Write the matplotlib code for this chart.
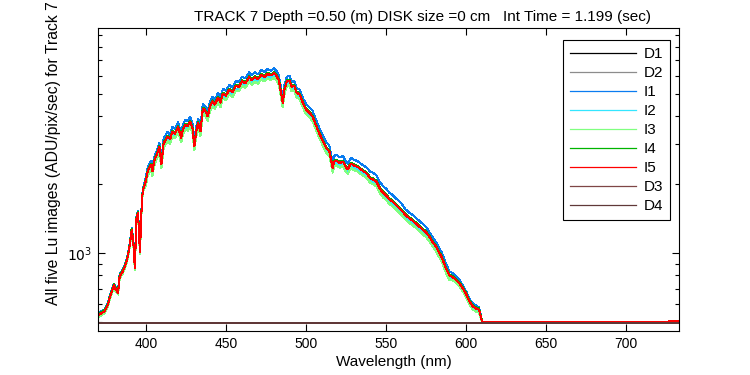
import matplotlib
matplotlib.use("Agg")
import matplotlib.pyplot as plt
from matplotlib.ticker import LogLocator, NullFormatter, FixedLocator, FixedFormatter

plt.rcParams['font.family'] = ['Liberation Sans', 'DejaVu Sans']

# wavelength grid (nm) shared by the five Lu images
wl = [370, 372, 374, 376, 378, 380, 381, 382.5, 383.5, 385.5,
      387.5, 389, 390, 391, 392, 393, 394, 395, 396.2, 397,
      397.6, 398.5, 400, 401, 403, 404, 405, 407, 408.3, 409.6,
      411, 413.5, 415, 416.5, 418, 420, 422, 423, 424.5, 426,
      427.5, 429, 430.2, 431.2, 432.5, 434, 435.5, 437, 438.5, 440,
      441.6, 443, 445, 446.5, 448, 450, 452, 454, 456, 458,
      460, 462, 464.5, 466, 468, 470, 472, 474, 476, 478,
      480, 481.5, 483, 484.5, 485.4, 486.5, 488, 489.6, 491, 492.5,
      494, 496, 498, 500, 502, 504, 506, 508, 510, 512.5,
      514.5, 516.6, 517.6, 519, 521, 523, 524.5, 526, 528, 530,
      532, 534, 536, 538, 540, 542, 544, 546, 548, 550,
      552, 554, 556, 558, 560, 562, 564.5, 567, 569, 571,
      573, 575, 577, 579, 581, 583, 585, 587, 589.5, 591,
      593, 595.5, 598, 600, 602, 604, 606, 608, 610, 612,
      630, 650, 665, 680, 700, 712, 726, 727, 733]

i1 = [546, 556, 567, 602, 675, 736, 709, 685, 806, 849,
      920, 1020, 1130, 1287, 1165, 875, 1448, 1525, 1032, 1479,
      1805, 1969, 2174, 2371, 2532, 2371, 2621, 2850, 3047, 2558,
      3182, 3402, 3308, 3570, 3507, 3738, 3360, 3644, 3833, 3780,
      3959, 3696, 3098, 3528, 3885, 3591, 4515, 4410, 4169, 4620,
      4851, 4704, 5040, 4788, 5250, 5145, 5460, 5313, 5670, 5618,
      5933, 5828, 6195, 6006, 6195, 6069, 6353, 6216, 6405, 6300,
      6458, 6279, 5985, 5198, 4778, 5460, 5933, 5985, 5618, 5691,
      5303, 5198, 4778, 4505, 4367, 4208, 3869, 3572, 3339, 3063,
      2968, 2502, 2671, 2692, 2629, 2671, 2544, 2470, 2618, 2565,
      2533, 2470, 2417, 2364, 2279, 2247, 2194, 2054, 1969, 1915,
      1840, 1798, 1744, 1691, 1637, 1558, 1505, 1463, 1420, 1378,
      1341, 1304, 1239, 1176, 1124, 1061, 998, 914, 832, 822,
      801, 770, 721, 680, 633, 603, 590, 580, 502, 497,
      498, 498, 499, 497, 498, 499, 499, 503, 503]

i2 = [530, 540, 550, 584, 655, 715, 688, 665, 782, 824,
      893, 990, 1097, 1249, 1131, 849, 1406, 1480, 1002, 1436,
      1752, 1911, 2038, 2223, 2374, 2223, 2457, 2672, 2857, 2399,
      2954, 3159, 3071, 3315, 3257, 3471, 3120, 3383, 3559, 3510,
      3676, 3432, 2876, 3276, 3608, 3335, 4193, 4095, 3871, 4290,
      4505, 4368, 4680, 4446, 4875, 4778, 5070, 4934, 5265, 5216,
      5509, 5411, 5753, 5577, 5753, 5636, 5899, 5772, 5948, 5850,
      5996, 5831, 5558, 4826, 4436, 5070, 5509, 5558, 5216, 5285,
      4924, 4826, 4436, 4144, 4017, 3871, 3559, 3286, 3071, 2818,
      2730, 2301, 2457, 2477, 2418, 2457, 2340, 2272, 2408, 2360,
      2330, 2272, 2223, 2174, 2077, 2048, 1999, 1872, 1794, 1745,
      1677, 1638, 1589, 1541, 1492, 1433, 1385, 1346, 1307, 1268,
      1233, 1199, 1151, 1092, 1043, 985, 926, 848, 780, 778,
      758, 729, 690, 650, 606, 576, 564, 558, 498, 496,
      497, 496, 498, 496, 497, 498, 498, 500, 500]

i3 = [524, 534, 545, 578, 649, 708, 681, 659, 774, 815,
      884, 980, 1086, 1237, 1119, 841, 1392, 1465, 992, 1421,
      1735, 1891, 1996, 2177, 2325, 2177, 2407, 2617, 2798, 2349,
      2894, 3094, 3008, 3247, 3190, 3400, 3056, 3314, 3486, 3438,
      3600, 3362, 2817, 3209, 3534, 3266, 4107, 4011, 3791, 4202,
      4412, 4278, 4584, 4355, 4775, 4680, 4966, 4832, 5157, 5109,
      5396, 5300, 5635, 5463, 5635, 5520, 5778, 5654, 5826, 5730,
      5873, 5711, 5444, 4727, 4345, 4966, 5396, 5444, 5109, 5176,
      4823, 4727, 4345, 4059, 3935, 3791, 3486, 3218, 3008, 2760,
      2674, 2254, 2407, 2426, 2368, 2407, 2292, 2225, 2359, 2311,
      2282, 2225, 2177, 2130, 2034, 2006, 1958, 1834, 1757, 1709,
      1643, 1604, 1557, 1509, 1461, 1404, 1356, 1318, 1280, 1242,
      1208, 1175, 1127, 1070, 1022, 965, 907, 831, 764, 766,
      747, 718, 679, 640, 597, 567, 556, 549, 497, 497,
      500, 499, 498, 497, 497, 499, 498, 499, 499]

i4 = [540, 550, 562, 596, 669, 729, 702, 679, 798, 840,
      911, 1010, 1119, 1275, 1153, 867, 1434, 1510, 1022, 1465,
      1788, 1949, 2111, 2303, 2459, 2303, 2545, 2767, 2959, 2485,
      3060, 3272, 3182, 3434, 3373, 3596, 3232, 3505, 3687, 3636,
      3808, 3555, 2980, 3394, 3737, 3454, 4343, 4242, 4010, 4444,
      4666, 4525, 4848, 4606, 5050, 4949, 5252, 5111, 5454, 5404,
      5707, 5606, 5959, 5777, 5959, 5838, 6111, 5979, 6161, 6060,
      6212, 6040, 5757, 5000, 4596, 5252, 5707, 5757, 5404, 5474,
      5101, 5000, 4596, 4293, 4161, 4010, 3687, 3404, 3182, 2919,
      2828, 2384, 2545, 2565, 2505, 2545, 2424, 2353, 2495, 2444,
      2414, 2353, 2303, 2252, 2151, 2121, 2071, 1939, 1858, 1808,
      1737, 1697, 1646, 1596, 1545, 1485, 1434, 1394, 1353, 1313,
      1278, 1242, 1192, 1131, 1081, 1020, 960, 879, 808, 798,
      778, 747, 707, 667, 621, 591, 579, 572, 500, 497,
      498, 497, 499, 497, 498, 499, 499, 501, 501]

i5 = [535, 545, 556, 590, 662, 722, 695, 672, 790, 832,
      902, 1000, 1108, 1262, 1142, 858, 1420, 1495, 1012, 1450,
      1770, 1930, 2090, 2280, 2435, 2280, 2520, 2740, 2930, 2460,
      3030, 3240, 3150, 3400, 3340, 3560, 3200, 3470, 3650, 3600,
      3770, 3520, 2950, 3360, 3700, 3420, 4300, 4200, 3970, 4400,
      4620, 4480, 4800, 4560, 5000, 4900, 5200, 5060, 5400, 5350,
      5650, 5550, 5900, 5720, 5900, 5780, 6050, 5920, 6100, 6000,
      6150, 5980, 5700, 4950, 4550, 5200, 5650, 5700, 5350, 5420,
      5050, 4950, 4550, 4250, 4120, 3970, 3650, 3370, 3150, 2890,
      2800, 2360, 2520, 2540, 2480, 2520, 2400, 2330, 2470, 2420,
      2390, 2330, 2280, 2230, 2130, 2100, 2050, 1920, 1840, 1790,
      1720, 1680, 1630, 1580, 1530, 1470, 1420, 1380, 1340, 1300,
      1265, 1230, 1180, 1120, 1070, 1010, 950, 870, 800, 790,
      770, 740, 700, 660, 615, 585, 573, 566, 500, 497,
      498, 497, 499, 497, 498, 499, 499, 505, 505]

# dark frames (nearly flat)
dark_wl = [370, 420, 480, 540, 600, 660, 733]
d1 = [492, 493, 492, 492, 493, 492, 492]
d2 = [493, 492, 493, 492, 492, 493, 493]
d3 = [493, 493, 492, 493, 493, 493, 492]
d4 = [492, 493, 493, 493, 492, 493, 493]

fig = plt.figure(figsize=(7.5, 3.75), dpi=100)
ax = fig.add_axes([0.1307, 0.1173, 0.7747, 0.8072])

series = [
    (dark_wl, d1, 'black', 'D1'),
    (dark_wl, d2, '#8c8c8c', 'D2'),
    (wl, i1, '#0a7cf0', 'I1'),
    (wl, i2, '#33e6ff', 'I2'),
    (wl, i3, '#80ff80', 'I3'),
    (wl, i4, '#00b400', 'I4'),
    (wl, i5, '#ff0000', 'I5'),
    (dark_wl, d3, '#7f4646', 'D3'),
    (dark_wl, d4, '#603838', 'D4'),
]
for x, y, c, name in series:
    ax.plot(x, y, color=c, lw=0.75, antialiased=False, label=name)

ax.set_yscale('log')
ax.set_xlim(370, 733)
ax.set_ylim(456, 9660)
ax.set_xticks([400, 450, 500, 550, 600, 650, 700])
ax.yaxis.set_major_locator(FixedLocator([1000]))
ax.yaxis.set_major_formatter(FixedFormatter([r'$10^{3}$']))
ax.yaxis.set_minor_locator(LogLocator(base=10, subs=range(2, 10)))
ax.yaxis.set_minor_formatter(NullFormatter())

ax.tick_params(which='both', direction='in', top=True, right=True, labelsize=10)
ax.tick_params(which='major', length=5, width=0.8)
ax.tick_params(which='minor', length=3, width=0.8)
ax.tick_params(axis='x', pad=4)
ax.tick_params(axis='y', pad=4)
for s in ax.spines.values():
    s.set_linewidth(0.8)

leg = ax.legend(loc='upper right', bbox_to_anchor=(0.9845, 0.9613), borderaxespad=0,
                fancybox=False, edgecolor='black', framealpha=1, fontsize=11,
                handlelength=4.3, handletextpad=0.5, labelspacing=0.33,
                borderpad=0.45)
leg.get_frame().set_linewidth(0.8)
for h in leg.get_lines():
    h.set_antialiased(True)
    h.set_linewidth(0.9)

fig.text(422 / 750, 1 - 21 / 375, 'TRACK 7 Depth =0.50 (m) DISK size =0 cm   Int Time = 1.199 (sec)',
         ha='center', va='baseline', fontsize=11)
fig.text(394 / 750, 1 - 362 / 375, 'Wavelength (nm)', ha='center', va='center', fontsize=11)
fig.text(54 / 750, 1 - 305 / 375, 'All five Lu images (ADU/pix/sec) for Track 7',
         rotation=90, ha='center', va='bottom', fontsize=11.3)

fig.savefig('out.png', dpi=100)
